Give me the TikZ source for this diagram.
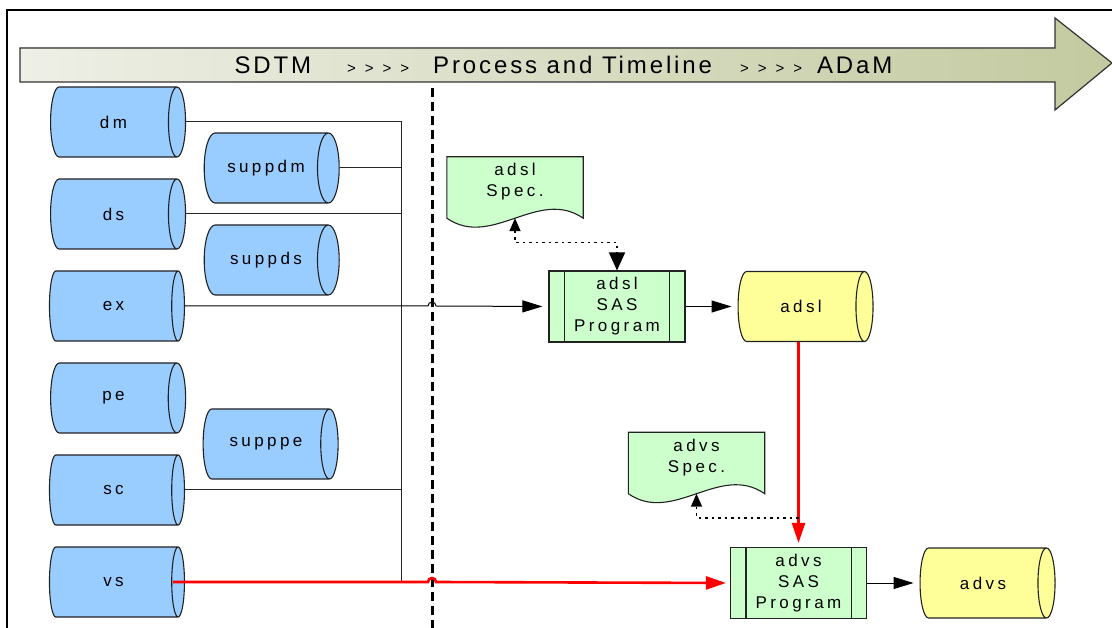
\documentclass[tikz,border=0pt]{standalone}
\usepackage{fontspec}
\setmainfont{Liberation Sans}
\newfontfamily\boxfont[LetterSpace=20]{Liberation Sans}
\newfontfamily\barfont[LetterSpace=12]{Liberation Sans}
\usetikzlibrary{arrows.meta,shapes.geometric,calc,backgrounds}

\definecolor{dsblue}{HTML}{99CCFF}
\definecolor{adyellow}{HTML}{FFFF99}
\definecolor{pgmgreen}{HTML}{CCFFCC}
\definecolor{barlight}{HTML}{EEEFE6}
\definecolor{bardark}{HTML}{C3CAA0}
\definecolor{outline}{HTML}{222222}

% four small forward marks in the timeline bar
\newcommand\fwdmarks{{\fontsize{15}{15}\selectfont >\hspace{9pt}>\hspace{9pt}>\hspace{9pt}>}}

\begin{document}
\begin{tikzpicture}[
  x=1pt, y=-1pt,
  font={\boxfont\fontsize{17}{21}\selectfont},
  dataset/.style={
    cylinder,
    aspect=1.37,
    draw=outline,
    line width=1.1pt,
    fill=#1,
    minimum width=70,
    minimum height=135,
    inner sep=0pt
  },
  program/.style={
    draw=outline,
    fill=pgmgreen,
    line width=1.1pt,
    minimum width=136,
    minimum height=71,
    align=center,
    inner sep=0pt
  },
  spec/.style={
    minimum width=136,
    minimum height=50,
    align=center,
    inner sep=0pt
  },
  specline/.style={draw=outline, fill=pgmgreen, line width=1.1pt},
  bar/.style={draw=black!80, line width=1.2pt, left color=barlight, right color=bardark},
  bus/.style={draw=black!85, line width=1pt},
  flow/.style={
    -{Triangle[length=20pt,width=12pt]},
    draw=black,
    line width=1pt,
    shorten >=6pt
  },
  redflow/.style={
    -{Triangle[length=20pt,width=13pt]},
    draw=red,
    line width=2.6pt,
    shorten >=4pt
  },
  specflow/.style={
    draw=black,
    line width=1.6pt,
    dash pattern=on 2.5pt off 4pt,
    -{Triangle[length=13pt,width=11pt]}
  },
  cutline/.style={draw=black, line width=3pt, dash pattern=on 9pt off 5pt}
]

\useasboundingbox (0,0) rectangle (1112,628);

% frame and timeline bar
\draw[line width=2.5pt] (7,628) -- (7,10) -- (1112,10);
\filldraw[bar] (20,48) -- (1055,48) -- (1055,18) -- (1112,63) -- (1055,110)
  -- (1055,82) -- (20,82) -- cycle;
\node[font={\barfont\fontsize{24}{24}\selectfont}] (title) at (563.5,65)
  {SDTM\hspace{36pt}\fwdmarks\hspace{24pt}Process and Timeline\hspace{28pt}\fwdmarks\hspace{15pt}ADaM};

% SDTM domains
\node[dataset=dsblue] (dm)     at (113.5,122) {dm};
\node[dataset=dsblue] (suppdm) at (266,168)   {suppdm};
\node[dataset=dsblue] (ds)     at (113.5,214) {ds};
\node[dataset=dsblue] (suppds) at (266,260)   {suppds};
\node[dataset=dsblue] (ex)     at (113.5,306) {ex};
\node[dataset=dsblue] (pe)     at (113.5,398) {pe};
\node[dataset=dsblue] (supppe) at (266,444)   {supppe};
\node[dataset=dsblue] (sc)     at (113.5,490) {sc};
\node[dataset=dsblue] (vs)     at (113.5,582) {vs};

% ADaM side
\node[spec]    (adslspec) at (515,182)    {adsl\\Spec.};
\node[program] (adslprog) at (617,306.5)  {adsl\\SAS\\Program};
\node[dataset=adyellow] (adsl) at (801,306.5) {adsl};
\node[spec]    (advsspec) at (696.5,457.5) {advs\\Spec.};
\node[program] (advsprog) at (798.5,583)  {advs\\SAS\\Program};
\node[dataset=adyellow] (advs) at (983,583) {advs};

\begin{scope}[on background layer]
  \fill[white] (0,0) rectangle (1112,628);
  \foreach \s in {adslspec,advsspec}
    \filldraw[specline] ([yshift=-11pt]\s.south west) -- (\s.north west)
      -- (\s.north east) -- ([yshift=-11pt]\s.south east)
      .. controls +(-45,-31) and +(45,31) .. ([yshift=-11pt]\s.south west) -- cycle;
\end{scope}

\foreach \p in {adslprog,advsprog}
  \draw[outline,line width=1.1pt]
    ([xshift=16pt]\p.north west) -- ([xshift=16pt]\p.south west)
    ([xshift=-16pt]\p.north east) -- ([xshift=-16pt]\p.south east);

% SDTM / ADaM cut
\coordinate (cut) at (432,88);
\coordinate (bus) at (401,0);
\draw[cutline] (cut) -- (cut |- 0,628);

% collecting bus
\draw[bus] (dm.east) -- (bus |- dm.east) -- (bus |- vs.east);
\foreach \d in {suppdm,ds,sc}
  \draw[bus] (\d.east) -- (bus |- \d.east);

\draw[flow] (ex.east) -- ($(cut |- ex.east)+(-4,0)$)
  arc[start angle=180,end angle=360,radius=4] -- (adslprog.west);
\draw[flow] (adslprog.east) -- (adsl.west);
\draw[flow] (advsprog.east) -- (advs.west);

\draw[redflow] ([xshift=-12pt]vs.east) -- ($(cut |- vs.east)+(-4,0)$)
  arc[start angle=180,end angle=360,radius=4] -- (advsprog.west);
\draw[redflow] (advsprog.north |- adsl.south) -- (advsprog.north);

% specs feeding the programs
\draw[specflow,{Triangle[length=13pt,width=11pt]}-{Triangle[length=18pt,width=16pt]}]
  ([yshift=-11pt]adslspec.south) |- ([yshift=28pt]adslprog.north) -- (adslprog.north);
\draw[specflow] ([yshift=29pt]advsprog.north) -| ([yshift=-11pt]advsspec.south);

\end{tikzpicture}
\end{document}
